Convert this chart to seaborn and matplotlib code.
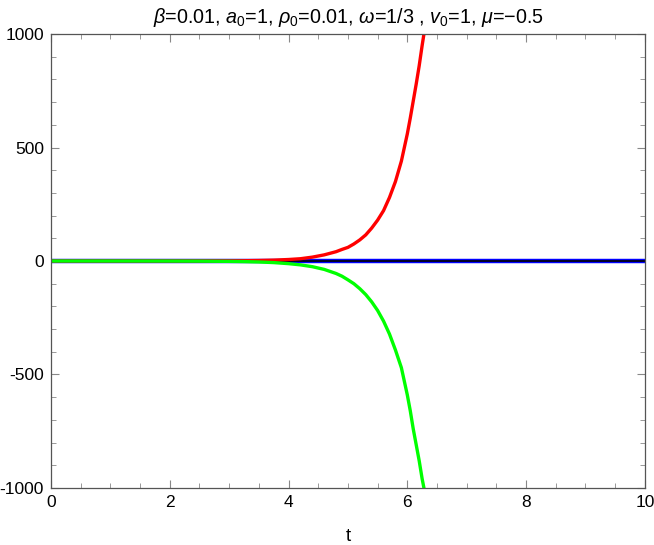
import numpy as np
import pandas as pd
import matplotlib
matplotlib.use("Agg")
import matplotlib.pyplot as plt
import seaborn as sns
from matplotlib.ticker import MultipleLocator, FuncFormatter

# nilai
t_merah = [0, 0.5, 1, 1.5, 2, 2.5, 3, 3.25, 3.5, 3.75, 4, 4.2, 4.4, 4.6, 4.8, 4.9, 5.0, 5.1, 5.2, 5.3,
           5.4, 5.5, 5.6, 5.7, 5.8, 5.9, 6.0, 6.05, 6.1, 6.15, 6.2, 6.25, 6.28]
y_merah = [0, 0, 0.01, 0.03, 0.1, 0.25, 0.7, 1.2, 2.2, 3.8, 6.6, 10, 17, 27, 41, 51, 60, 75, 93, 115,
           145, 180, 222, 280, 350, 440, 560, 630, 705, 780, 860, 950, 1000]

t_hijau = [0, 0.5, 1, 1.5, 2, 2.5, 3, 3.25, 3.5, 3.75, 4, 4.2, 4.4, 4.6, 4.8, 4.9, 5.0, 5.1, 5.2, 5.3,
           5.4, 5.5, 5.6, 5.7, 5.8, 5.9, 6.0, 6.05, 6.1, 6.15, 6.2, 6.25, 6.28]
y_hijau = [0, -0.01, -0.03, -0.09, -0.24, -0.6, -1.6, -2.6, -4.3, -7, -11.7, -17, -25, -37, -55, -67, -83, -100, -122, -148,
           -180, -218, -265, -322, -392, -470, -590, -660, -740, -810, -880, -960, -1000]

t_nol = [0, 10]
y_nol = [0, 0]

judul = r"$\beta$=0.01, $a_0$=1, $\rho_0$=0.01, $\omega$=1/3 , $v_0$=1, $\mu$=$-$0.5"

sns.set_style("ticks")
plt.rcParams['font.family'] = ['Liberation Sans', 'DejaVu Sans']
plt.rcParams['mathtext.fontset'] = 'custom'
plt.rcParams['mathtext.rm'] = 'Liberation Sans'
plt.rcParams['mathtext.it'] = 'Liberation Sans:italic'

fig = plt.figure(figsize=(6.54, 5.45), dpi=100)
ax = fig.add_axes([0.078, 0.1046, 0.908, 0.833])

sns.lineplot(x=t_nol, y=y_nol, color='blue', linewidth=3.2, ax=ax)
sns.lineplot(x=t_nol, y=y_nol, color='black', linewidth=1.2, ax=ax)
sns.lineplot(x=t_merah, y=y_merah, color='red', linewidth=2.4, ax=ax)
sns.lineplot(x=t_hijau, y=y_hijau, color='#00ff00', linewidth=2.4, ax=ax)

ax.set_xlim(0, 10)
ax.set_ylim(-1000, 1000)
ax.xaxis.set_major_locator(MultipleLocator(2))
ax.xaxis.set_minor_locator(MultipleLocator(0.5))
ax.yaxis.set_major_locator(MultipleLocator(500))
ax.yaxis.set_minor_locator(MultipleLocator(100))
ax.yaxis.set_major_formatter(FuncFormatter(lambda v, p: f"{v:.0f}"))

ax.tick_params(which='both', direction='in', top=True, right=True, color='#888888',
               labelsize=12.5, labelcolor='black')
ax.tick_params(which='major', length=6, width=0.8, pad=5)
ax.tick_params(which='minor', length=3.5, width=0.6)
for s in ax.spines.values():
    s.set_color('#555555')
    s.set_linewidth(0.9)

ax.set_xlabel('t', fontsize=13.5, labelpad=13, color='black')
ax.set_title(judul, fontsize=14.2, pad=8, color='black')

fig.savefig('out.png', dpi=100)
